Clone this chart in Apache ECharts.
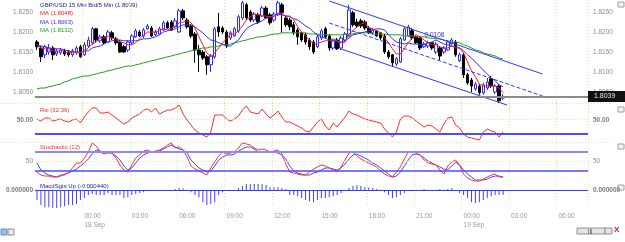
<!DOCTYPE html>
<html>
<head>
<meta charset="utf-8">
<script src="https://cdn.jsdelivr.net/npm/echarts@6/dist/echarts.min.js"></script>
<style>
html, body { margin: 0; padding: 0; background: #fff; }
#main { width: 625px; height: 242px; }
</style>
</head>
<body>
<div id="main"></div>
<script>
var chartDom = document.getElementById('main');
var myChart = echarts.init(chartDom);

// 15 min slots from 17 Sep 21:00, room on the right for the projection
var slotCount = 140;
var categories = [];
for (var k = 0; k < slotCount; k++) {
  var mins = 21 * 60 + k * 15;
  var day = 17 + Math.floor(mins / 1440);
  var m = mins % 1440;
  categories.push(day + ' Sep ' + ('0' + Math.floor(m / 60)).slice(-2) + ':' + ('0' + (m % 60)).slice(-2));
}

var opens = [
1.8175,1.8160,1.8143,1.8150,1.8160,1.8145,1.8148,1.8153,1.8150,1.8143,
1.8148,1.8163,1.8143,1.8165,1.8173,1.8208,1.8178,1.8188,1.8175,1.8198,
1.8183,1.8175,1.8163,1.8155,1.8173,1.8188,1.8200,1.8190,1.8208,1.8210,
1.8193,1.8195,1.8205,1.8223,1.8225,1.8213,1.8200,1.8253,1.8230,1.8215,
1.8195,1.8155,1.8150,1.8138,1.8118,1.8138,1.8213,1.8210,1.8200,1.8185,
1.8190,1.8203,1.8235,1.8268,1.8250,1.8230,1.8243,1.8240,1.8260,1.8243,
1.8230,1.8243,1.8268,1.8235,1.8230,1.8218,1.8205,1.8198,1.8193,1.8180,
1.8175,1.8163,1.8185,1.8208,1.8190,1.8160,1.8180,1.8160,1.8180,1.8190,
1.8248,1.8225,1.8228,1.8225,1.8210,1.8198,1.8203,1.8198,1.8190,1.8150,
1.8143,1.8120,1.8125,1.8180,1.8190,1.8203,1.8188,1.8185,1.8163,1.8165,
1.8173,1.8150,1.8160,1.8150,1.8155,1.8170,1.8175,1.8128,1.8143,1.8093,
1.8080,1.8058,1.8065,1.8048,1.8060,1.8083,1.8050,1.8065,1.8035];
var closes = [
1.8163,1.8138,1.8163,1.8160,1.8143,1.8153,1.8155,1.8145,1.8143,1.8153,
1.8160,1.8138,1.8168,1.8180,1.8208,1.8180,1.8188,1.8173,1.8200,1.8185,
1.8173,1.8150,1.8150,1.8175,1.8190,1.8203,1.8190,1.8205,1.8215,1.8190,
1.8200,1.8208,1.8223,1.8210,1.8205,1.8228,1.8253,1.8235,1.8213,1.8190,
1.8155,1.8143,1.8135,1.8118,1.8140,1.8208,1.8200,1.8200,1.8165,1.8198,
1.8208,1.8238,1.8273,1.8235,1.8230,1.8245,1.8225,1.8260,1.8235,1.8223,
1.8245,1.8273,1.8248,1.8218,1.8213,1.8198,1.8188,1.8180,1.8175,1.8163,
1.8150,1.8188,1.8203,1.8188,1.8160,1.8178,1.8158,1.8185,1.8195,1.8255,
1.8218,1.8215,1.8215,1.8210,1.8198,1.8205,1.8190,1.8185,1.8150,1.8138,
1.8123,1.8133,1.8183,1.8208,1.8213,1.8185,1.8173,1.8160,1.8170,1.8173,
1.8160,1.8170,1.8140,1.8160,1.8175,1.8180,1.8143,1.8143,1.8093,1.8073,
1.8065,1.8070,1.8048,1.8068,1.8075,1.8065,1.8065,1.8028,1.8039];
var lows = [
1.8155,1.8125,1.8135,1.8143,1.8130,1.8140,1.8143,1.8140,1.8138,1.8138,
1.8143,1.8135,1.8140,1.8160,1.8168,1.8175,1.8173,1.8170,1.8173,1.8180,
1.8168,1.8148,1.8148,1.8150,1.8168,1.8185,1.8188,1.8185,1.8205,1.8188,
1.8190,1.8193,1.8203,1.8208,1.8203,1.8210,1.8198,1.8230,1.8208,1.8185,
1.8123,1.8100,1.8130,1.8093,1.8100,1.8133,1.8188,1.8195,1.8160,1.8180,
1.8188,1.8198,1.8230,1.8230,1.8225,1.8225,1.8220,1.8238,1.8233,1.8218,
1.8225,1.8240,1.8198,1.8213,1.8205,1.8193,1.8168,1.8175,1.8168,1.8155,
1.8145,1.8160,1.8180,1.8183,1.8153,1.8155,1.8155,1.8155,1.8175,1.8188,
1.8213,1.8210,1.8210,1.8205,1.8195,1.8193,1.8188,1.8180,1.8145,1.8133,
1.8113,1.8115,1.8123,1.8178,1.8188,1.8180,1.8170,1.8155,1.8160,1.8160,
1.8155,1.8145,1.8130,1.8145,1.8153,1.8168,1.8138,1.8125,1.8085,1.8068,
1.8050,1.8053,1.8043,1.8043,1.8055,1.8060,1.8045,1.8023,1.8030];
var highs = [
1.8180,1.8165,1.8168,1.8170,1.8165,1.8158,1.8160,1.8158,1.8155,1.8158,
1.8165,1.8168,1.8175,1.8188,1.8213,1.8210,1.8193,1.8193,1.8205,1.8203,
1.8188,1.8180,1.8168,1.8180,1.8195,1.8208,1.8205,1.8210,1.8220,1.8215,
1.8205,1.8213,1.8228,1.8228,1.8230,1.8235,1.8258,1.8258,1.8235,1.8220,
1.8200,1.8168,1.8155,1.8143,1.8145,1.8213,1.8248,1.8215,1.8205,1.8203,
1.8213,1.8243,1.8278,1.8273,1.8255,1.8250,1.8248,1.8265,1.8265,1.8248,
1.8250,1.8278,1.8273,1.8240,1.8235,1.8225,1.8210,1.8200,1.8198,1.8185,
1.8180,1.8193,1.8208,1.8213,1.8195,1.8183,1.8185,1.8190,1.8200,1.8268,
1.8253,1.8233,1.8233,1.8230,1.8215,1.8210,1.8205,1.8200,1.8195,1.8155,
1.8145,1.8138,1.8188,1.8213,1.8218,1.8210,1.8193,1.8190,1.8175,1.8178,
1.8175,1.8175,1.8165,1.8165,1.8180,1.8185,1.8180,1.8148,1.8148,1.8098,
1.8085,1.8075,1.8070,1.8073,1.8085,1.8090,1.8070,1.8070,1.8045];

var maFast = [
1.8168,1.8160,1.8158,1.8155,1.8153,1.8150,1.8155,1.8150,1.8148,1.8150,
1.8150,1.8148,1.8153,1.8160,1.8170,1.8175,1.8185,1.8185,1.8190,1.8185,
1.8183,1.8175,1.8173,1.8168,1.8168,1.8173,1.8183,1.8193,1.8200,1.8200,
1.8200,1.8203,1.8208,1.8205,1.8210,1.8215,1.8223,1.8225,1.8228,1.8223,
1.8210,1.8188,1.8168,1.8148,1.8138,1.8148,1.8160,1.8173,1.8183,1.8195,
1.8195,1.8203,1.8215,1.8230,1.8238,1.8245,1.8243,1.8240,1.8240,1.8238,
1.8238,1.8248,1.8245,1.8240,1.8240,1.8230,1.8213,1.8200,1.8190,1.8180,
1.8170,1.8170,1.8175,1.8178,1.8178,1.8183,1.8178,1.8173,1.8175,1.8195,
1.8203,1.8213,1.8220,1.8223,1.8210,1.8208,1.8203,1.8198,1.8185,1.8173,
1.8158,1.8145,1.8145,1.8158,1.8173,1.8185,1.8193,1.8188,1.8180,1.8173,
1.8168,1.8168,1.8163,1.8160,1.8160,1.8165,1.8160,1.8160,1.8148,1.8125,
1.8103,1.8088,1.8070,1.8065,1.8065,1.8065,1.8065,1.8060,1.8048];
var maMid = [
1.8168,1.8165,1.8163,1.8160,1.8158,1.8158,1.8158,1.8155,1.8153,1.8150,
1.8150,1.8150,1.8153,1.8153,1.8160,1.8163,1.8165,1.8170,1.8175,1.8178,
1.8180,1.8180,1.8178,1.8178,1.8178,1.8178,1.8180,1.8183,1.8183,1.8185,
1.8188,1.8193,1.8200,1.8203,1.8205,1.8208,1.8213,1.8218,1.8218,1.8218,
1.8213,1.8205,1.8198,1.8188,1.8180,1.8178,1.8173,1.8170,1.8165,1.8165,
1.8173,1.8180,1.8195,1.8208,1.8215,1.8220,1.8223,1.8228,1.8235,1.8238,
1.8240,1.8245,1.8243,1.8240,1.8238,1.8233,1.8230,1.8223,1.8215,1.8210,
1.8200,1.8193,1.8188,1.8185,1.8180,1.8178,1.8175,1.8175,1.8178,1.8185,
1.8193,1.8195,1.8198,1.8200,1.8203,1.8205,1.8208,1.8208,1.8205,1.8193,
1.8183,1.8175,1.8173,1.8170,1.8173,1.8170,1.8170,1.8168,1.8168,1.8173,
1.8175,1.8180,1.8175,1.8170,1.8168,1.8165,1.8163,1.8160,1.8153,1.8143,
1.8135,1.8125,1.8115,1.8105,1.8095,1.8085,1.8078,1.8068,1.8063];
var maSlow = [
1.8058,1.8060,1.8060,1.8063,1.8065,1.8068,1.8070,1.8075,1.8078,1.8083,
1.8085,1.8088,1.8090,1.8090,1.8093,1.8095,1.8098,1.8100,1.8103,1.8105,
1.8108,1.8110,1.8113,1.8115,1.8115,1.8118,1.8120,1.8123,1.8125,1.8128,
1.8130,1.8133,1.8135,1.8138,1.8140,1.8143,1.8145,1.8148,1.8150,1.8153,
1.8155,1.8158,1.8160,1.8160,1.8163,1.8163,1.8165,1.8168,1.8168,1.8170,
1.8173,1.8175,1.8178,1.8180,1.8183,1.8185,1.8188,1.8188,1.8190,1.8193,
1.8195,1.8195,1.8198,1.8198,1.8198,1.8198,1.8198,1.8198,1.8198,1.8195,
1.8195,1.8195,1.8193,1.8193,1.8193,1.8193,1.8193,1.8193,1.8195,1.8195,
1.8195,1.8198,1.8198,1.8198,1.8198,1.8195,1.8195,1.8195,1.8195,1.8193,
1.8193,1.8193,1.8193,1.8190,1.8190,1.8190,1.8188,1.8188,1.8188,1.8185,
1.8185,1.8183,1.8183,1.8180,1.8178,1.8175,1.8175,1.8173,1.8168,1.8165,
1.8160,1.8155,1.8153,1.8148,1.8145,1.8143,1.8140,1.8135,1.8133];

var rsi = [
51.0,48.1,52.4,52.4,48.1,49.6,51.0,48.1,46.7,49.6,
51.0,45.3,53.9,61.1,66.8,66.8,59.6,59.6,61.1,56.8,
52.4,48.1,43.8,46.7,52.4,55.3,58.2,63.9,65.4,61.1,
66.8,58.2,61.1,63.9,63.9,66.8,71.1,58.2,49.6,42.4,
35.2,30.9,28.0,25.1,32.3,56.8,56.8,56.8,51.0,48.1,
51.0,55.3,63.9,69.7,61.1,59.6,58.2,65.4,58.2,52.4,
56.8,62.5,53.9,46.7,46.7,43.8,41.0,38.1,33.8,32.3,
39.5,46.7,51.0,41.0,35.2,45.3,39.5,46.7,53.9,62.5,
58.2,56.8,53.9,51.0,49.6,48.1,46.7,45.3,36.6,30.9,
25.1,32.3,51.0,55.3,55.3,52.4,48.1,43.8,39.5,42.4,
41.0,36.6,32.3,43.8,52.4,53.9,42.4,38.1,29.5,25.1,
23.7,22.3,20.8,32.3,36.6,33.8,32.3,25.1,32.36];

var stochK = [
26.8,20.5,18.4,18.4,16.3,16.3,20.5,20.5,26.8,35.3,
45.8,45.8,56.3,68.9,87.9,81.6,68.9,64.7,68.9,66.8,
56.3,41.6,31.1,26.8,41.6,56.3,62.6,71.1,73.2,68.9,
71.1,73.2,77.4,83.7,87.9,77.4,79.5,73.2,58.4,39.5,
33.2,29.0,24.7,20.5,35.3,47.9,60.5,68.9,64.7,66.8,
68.9,77.4,87.9,85.8,83.7,77.4,73.2,75.3,73.2,68.9,
71.1,73.2,64.7,43.7,26.8,24.7,22.6,20.5,20.5,26.8,
33.2,37.4,41.6,39.5,35.3,31.1,26.8,37.4,52.1,66.8,
68.9,60.5,54.2,50.0,45.8,41.6,37.4,29.0,22.6,18.4,
16.3,26.8,37.4,54.2,68.9,68.9,66.8,62.6,52.1,45.8,
43.7,41.6,31.1,22.6,39.5,47.9,52.1,41.6,22.6,14.2,
10.0,7.9,7.9,12.1,16.3,20.5,22.6,16.3,16.3];
var stochD = [
45.8,31.1,24.7,20.5,18.4,16.3,18.4,22.6,24.7,29.0,
33.2,39.5,45.8,54.2,64.7,73.2,71.1,66.8,66.8,66.8,
60.5,52.1,39.5,31.1,35.3,45.8,56.3,62.6,66.8,68.9,
68.9,71.1,75.3,79.5,83.7,79.5,75.3,73.2,66.8,52.1,
43.7,35.3,31.1,26.8,29.0,39.5,52.1,58.4,62.6,62.6,
64.7,71.1,75.3,79.5,79.5,75.3,68.9,68.9,68.9,68.9,
68.9,66.8,62.6,54.2,39.5,29.0,24.7,22.6,20.5,20.5,
24.7,26.8,31.1,35.3,35.3,33.2,31.1,35.3,43.7,54.2,
62.6,64.7,60.5,56.3,52.1,45.8,41.6,35.3,29.0,22.6,
16.3,18.4,26.8,39.5,52.1,62.6,64.7,62.6,56.3,50.0,
45.8,41.6,37.4,33.2,31.1,39.5,47.9,41.6,31.1,22.6,
16.3,10.0,10.0,10.0,12.1,16.3,18.4,18.4,16.3];

var macd = [
-0.00088,-0.00132,-0.00150,-0.00150,-0.00158,-0.00158,-0.00150,-0.00141,-0.00132,-0.00132,
-0.00123,-0.00088,-0.00070,-0.00044,-0.00035,-0.00044,-0.00044,-0.00044,-0.00026,-0.00044,
-0.00044,-0.00044,-0.00070,-0.00062,-0.00044,-0.00035,-0.00026,-0.00018,-0.00009,-0.00009,
-0.00004,-0.00004,-0.00003,-0.00003,-0.00002,0.00009,0.00018,0.00013,-0.00004,-0.00018,
-0.00044,-0.00062,-0.00106,-0.00132,-0.00123,-0.00106,-0.00044,-0.00018,-0.00009,-0.00004,
0.00004,0.00018,0.00035,0.00053,0.00053,0.00053,0.00053,0.00053,0.00044,0.00026,
0.00026,0.00026,0.00018,0.00009,-0.00044,-0.00044,-0.00053,-0.00070,-0.00088,-0.00097,
-0.00106,-0.00088,-0.00070,-0.00070,-0.00062,-0.00053,-0.00044,-0.00026,-0.00009,0.00018,
0.00035,0.00044,0.00035,0.00026,0.00022,0.00018,0.00009,0.00004,-0.00018,-0.00044,
-0.00070,-0.00062,-0.00044,-0.00026,-0.00009,0.00004,0.00004,0.00004,0.00009,0.00004,
0.00004,0.00004,0.00009,0.00004,0.00009,0.00018,-0.00009,-0.00026,-0.00044,-0.00070,
-0.00106,-0.00114,-0.00106,-0.00088,-0.00070,-0.00053,-0.00044,-0.00044,-0.00044];

// regression channel: [slot, price] end points
var channelUpper = [[74, 1.82775], [128, 1.8095]];
var channelMiddle = [[74, 1.82225], [128, 1.8040]];
var channelLower = [[77, 1.81575], [119, 1.80175]];
var channelWidth = '0.0108';
var lastPrice = 1.8039;

var candleData = opens.map(function (o, i) { return [o, closes[i], lows[i], highs[i]]; });

var font = 'Liberation Sans, Arial, sans-serif';
var gridColor = '#e4e4a8';
var blue = '#3535ff';

function isTick(idx, val) {
  var t = val.slice(-5);
  return idx > 0 && t.slice(3) === '00' && (+t.slice(0, 2)) % 3 === 0;
}
function xAxisFor(gi, showLabels) {
  return {
    type: 'category', gridIndex: gi, data: categories, boundaryGap: true,
    axisLine: { show: false }, axisTick: { show: false },
    axisLabel: {
      show: showLabels, interval: isTick, align: 'left', margin: 3,
      color: '#9a9a9a', fontSize: 6.5, lineHeight: 9, fontFamily: font,
      formatter: function (v) {
        var t = v.slice(-5);
        return t === '00:00' ? t + '\n' + v.slice(0, 6) : t;
      }
    },
    splitLine: { show: true, interval: isTick, lineStyle: { color: gridColor, type: [1, 2], width: 1 } }
  };
}
function yAxisFor(gi, pos, min, max, interval, fmt, bold) {
  return {
    type: 'value', gridIndex: gi, position: pos, min: min, max: max, interval: interval,
    axisLine: { show: false }, axisTick: { show: false }, splitLine: { show: false },
    axisLabel: { margin: pos === 'left' ? 2 : 5, color: bold ? '#7a7a7a' : '#8c8c8c',
      fontWeight: bold ? 'bold' : 'normal', fontSize: 6.5, fontFamily: font, formatter: fmt }
  };
}
var priceFmt = function (v) { return (v > 1.8049 && v < 1.8251) ? v.toFixed(4) : ''; };
var rsiFmt = function (v) { return Math.abs(v - 50) < 0.01 ? '50.00' : ''; };
var stoFmt = function (v) { return Math.abs(v - 50) < 0.01 ? '50' : ''; };
var macdFmt = function (v) { return Math.abs(v) < 1e-7 ? '0.000000' : ''; };

function hLine(val, color, width, type) {
  return { yAxis: val, lineStyle: { color: color, width: width, type: type || 'solid' } };
}
function seg(p, color, type) {
  return [{ coord: p[0], lineStyle: { color: color, width: 1, type: type || 'solid' } }, { coord: p[1] }];
}
function label(x, y, text, color) {
  return { type: 'text', left: x, top: y, silent: true,
    style: { text: text, fill: color, fontSize: 6, fontFamily: font } };
}
function icon(x, y) {
  return { type: 'rect', shape: { x: x, y: y, width: 6, height: 5 }, silent: true,
    style: { fill: '#f2f2f2', stroke: '#a0a0a0', lineWidth: 1 } };
}

var option = {
  animation: false,
  backgroundColor: '#ffffff',
  textStyle: { fontFamily: font },
  grid: [
    { left: 35, right: 37, top: 0, height: 112 },
    { left: 35, right: 37, top: 103, height: 39 },
    { left: 35, right: 37, top: 142, height: 40.4 },
    { left: 35, right: 37, top: 181, height: 27.3 }
  ],
  xAxis: [xAxisFor(0, false), xAxisFor(1, false), xAxisFor(2, false), xAxisFor(3, true)],
  yAxis: [
    yAxisFor(0, 'left', 1.80, 1.828, 0.005, priceFmt, false),
    yAxisFor(0, 'right', 1.80, 1.828, 0.005, priceFmt, false),
    yAxisFor(1, 'left', 18, 74, 2, rsiFmt, true),
    yAxisFor(1, 'right', 18, 74, 2, rsiFmt, true),
    yAxisFor(2, 'left', 5, 90, 5, stoFmt, false),
    yAxisFor(2, 'right', 5, 90, 5, stoFmt, false),
    yAxisFor(3, 'left', -0.0016, 0.0008, 0.0008, macdFmt, true),
    yAxisFor(3, 'right', -0.0016, 0.0008, 0.0008, macdFmt, true)
  ],
  series: [
    {
      type: 'candlestick', xAxisIndex: 0, yAxisIndex: 0, data: candleData, barWidth: 3, silent: true,
      itemStyle: { color: '#ffffff', color0: '#000000', borderColor: '#2b2bff', borderColor0: '#000000', borderWidth: 1 },
      markLine: {
        silent: true, symbol: ['none', 'none'], label: { show: false },
        data: [
          seg(channelUpper, blue),
          seg(channelMiddle, blue, 'dashed'),
          seg(channelLower, blue)
        ]
      },
      markPoint: {
        silent: true, symbol: 'rect', symbolSize: 1, itemStyle: { color: 'rgba(0,0,0,0)' },
        label: { show: true, position: 'right', distance: 0, formatter: channelWidth, color: '#3030d0', fontSize: 6.5, fontFamily: font },
        data: [{ coord: [98, 1.8193] }]
      }
    },
    { type: 'line', xAxisIndex: 0, yAxisIndex: 0, data: maSlow, symbol: 'none', silent: true,
      lineStyle: { color: '#22a022', width: 1 } },
    { type: 'line', xAxisIndex: 0, yAxisIndex: 0, data: maMid, symbol: 'none', silent: true,
      lineStyle: { color: '#3030ff', width: 1 } },
    { type: 'line', xAxisIndex: 0, yAxisIndex: 0, data: maFast, symbol: 'none', silent: true,
      lineStyle: { color: '#ff1a1a', width: 1 },
      markLine: {
        silent: true, symbol: ['none', 'none'], precision: 4,
        data: [{ yAxis: lastPrice, lineStyle: { color: '#8c8c8c', width: 2, type: 'solid' },
          label: { show: true, position: 'end', distance: 0, formatter: lastPrice.toFixed(4),
            color: '#e8e8e8', backgroundColor: '#111111', padding: [2, 10, 2, 6], fontSize: 7, fontFamily: font } }]
      } },
    { type: 'line', xAxisIndex: 1, yAxisIndex: 2, data: rsi, symbol: 'none', silent: true,
      lineStyle: { color: '#ff2a2a', width: 1 },
      markLine: { silent: true, symbol: ['none', 'none'], label: { show: false },
        data: [hLine(50, gridColor, 1, [1, 2]), hLine(30, '#4d4dff', 2)] } },
    { type: 'line', xAxisIndex: 2, yAxisIndex: 4, data: stochD, symbol: 'none', silent: true,
      lineStyle: { color: '#4545ff', width: 1 },
      markLine: { silent: true, symbol: ['none', 'none'], label: { show: false },
        data: [hLine(50, gridColor, 1, [1, 2]), hLine(70, '#8a8aff', 2), hLine(30, '#4d4dff', 1.5)] } },
    { type: 'line', xAxisIndex: 2, yAxisIndex: 4, data: stochK, symbol: 'none', silent: true,
      lineStyle: { color: '#ff3030', width: 1 } },
    { type: 'bar', xAxisIndex: 3, yAxisIndex: 6, data: macd, barWidth: 1, silent: true,
      itemStyle: { color: '#4040ff' },
      markLine: { silent: true, symbol: ['none', 'none'], label: { show: false },
        data: [hLine(0, '#3a3aff', 1)] } }
  ],
  graphic: [
    { type: 'line', silent: true, shape: { x1: 0, y1: 103.5, x2: 612, y2: 103.5 },
      style: { stroke: gridColor, lineWidth: 1, lineDash: [1, 2] } },
    { type: 'line', silent: true, shape: { x1: 0, y1: 142.5, x2: 612, y2: 142.5 },
      style: { stroke: gridColor, lineWidth: 1, lineDash: [1, 2] } },
    label(40, 2, 'GBP/USD 15 Min Bid/5 Min (1.8039)', '#1c1c8c'),
    label(40, 10, 'MA (1.8048)', '#ff1a1a'),
    label(40, 19, 'MA (1.8063)', '#3030ff'),
    label(40, 27, 'MA (1.8132)', '#22a022'),
    label(40, 107, 'Rsi (32.36)', '#ff2a2a'),
    label(40, 144, 'Stochastic (12)', '#ff2a2a'),
    label(40, 183, 'MacdSgts Up (-0.000440)', '#2020c0'),
    icon(618, 2), icon(618, 107), icon(618, 144), icon(618, 185),
    { type: 'rect', silent: true, shape: { x: 577, y: 228, width: 28, height: 6 },
      style: { fill: '#e4e4e4', stroke: '#909090', lineWidth: 1 } },
    { type: 'text', silent: true, left: 588, top: 228,
      style: { text: '|||', fill: '#333', fontSize: 6, fontFamily: font } },
    { type: 'rect', silent: true, shape: { x: 605, y: 228, width: 7, height: 6 },
      style: { fill: '#e4e4e4', stroke: '#909090', lineWidth: 1 } },
    { type: 'text', silent: true, left: 614, top: 226,
      style: { text: 'X', fill: '#dd1111', fontSize: 8, fontWeight: 'bold', fontFamily: font } },
    { type: 'rect', silent: true, shape: { x: 1, y: 229, width: 6, height: 6 },
      style: { fill: '#8fc4e8', stroke: '#6090b0', lineWidth: 1 } },
    { type: 'rect', silent: true, shape: { x: 8, y: 229, width: 6, height: 6 },
      style: { fill: '#e8e8e8', stroke: '#909090', lineWidth: 1 } }
  ]
};

option && myChart.setOption(option);
</script>
</body>
</html>
